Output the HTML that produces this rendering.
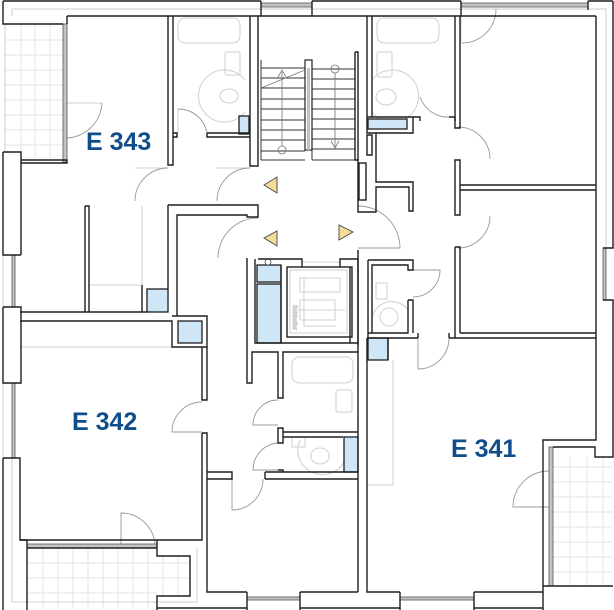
<!DOCTYPE html>
<html><head><meta charset="utf-8"><style>html,body{margin:0;padding:0;background:#fff}svg{display:block}</style></head>
<body>
<svg xmlns="http://www.w3.org/2000/svg" width="614" height="610" viewBox="0 0 614 610">
<rect width="614" height="610" fill="#fff"/>

<!-- balcony tile grids -->
<g stroke="#e3e3e3" stroke-width="1" fill="none">
  <path d="M21 24V158M35 24V158M50 24V158M5 40H63M5 55H63M5 70H63M5 85H63M5 100H63M5 115H63M5 130H63M5 145H63"/>
  <path d="M43 548V608M58 548V608M73 548V608M88 548V608M103 548V608M118 548V608M133 548V608M148 548V608M163 556V596M178 556V596M27 563H190M27 578H190M27 593H157"/>
  <path d="M570 457V586M587 457V586M603 457V586M553 467H612M553 482H612M553 497H612M553 512H612M553 527H612M553 542H612M553 557H612M553 572H612"/>
</g>

<!-- light grey outlines / furniture -->
<g stroke="#cfcfcf" stroke-width="1" fill="none">
  <path d="M12 9H606V248M12 9V16"/>
  <path d="M5 24V152"/>
  <path d="M12 458V602H197V548"/>
  <path d="M3 255V307M3 383V458"/>
  <!-- E343 kitchen -->
  <path d="M142 206V285H89"/>
  <path d="M20 347H172"/>
  <!-- E341 kitchen -->
  <path d="M393 360V485H367"/>
  <!-- bathroom TL -->
  <rect x="178" y="18" width="62" height="25" rx="7"/>
  <rect x="225" y="52" width="15" height="23" rx="2"/>
  <ellipse cx="229" cy="96" rx="9" ry="7"/>
  <path d="M245 80A26 26 0 1 0 245 112"/>
  <!-- bathroom TR -->
  <rect x="377" y="18" width="62" height="25" rx="7"/>
  <rect x="377" y="52" width="15" height="25" rx="2"/>
  <ellipse cx="386" cy="97" rx="10" ry="8"/>
  <path d="M372 80A26 26 0 1 1 372 112"/>
  <!-- bathroom 2 -->
  <rect x="292" y="357" width="61" height="26" rx="7"/>
  <rect x="336" y="390" width="16" height="22" rx="2"/>
  <!-- WC2 -->
  <rect x="292" y="437" width="13" height="10"/>
  <ellipse cx="320" cy="456" rx="9" ry="8"/>
  <path d="M300 440A22 22 0 1 0 345 460"/>
  <!-- WC right -->
  <rect x="376" y="283" width="11" height="16"/>
  <ellipse cx="389" cy="317" rx="9" ry="9"/>
  <path d="M372 318A20 20 0 0 1 408 310"/>
  <!-- lift interior -->
  <rect x="290" y="270" width="57" height="63"/>
  <rect x="302" y="262" width="38" height="5"/>
  <path d="M300 278H340V292H300ZM300 300H335V320H300ZM298 310H345M304 278V326H336"/>
  <text x="293" y="305" font-family="Liberation Sans, sans-serif" font-size="6" fill="#cfcfcf" transform="rotate(90 293 305)">Schindler</text>
  <!-- door leaves -->
  <path d="M65 103H102M217 168H250M135 168H168M178 109V133M461 9V43"/>
</g>

<!-- door swing arcs -->
<g stroke="#9a9a9a" stroke-width="0.9" fill="none">
  <path d="M102 103A37 37 0 0 1 65 138"/>
  <path d="M168 168A33 33 0 0 0 135 201"/>
  <path d="M250 168A33 33 0 0 0 217 201"/>
  <path d="M178 109A29 29 0 0 1 207 133"/>
  <path d="M258 218A40 40 0 0 0 218 258"/>
  <path d="M420 97A30 30 0 0 0 451 117"/>
  <path d="M462 43A34 34 0 0 0 496 9"/>
  <path d="M490 159A32 32 0 0 0 458 127"/>
  <path d="M490 216A32 32 0 0 1 458 248"/>
  <path d="M358 248H400A42 42 0 0 0 358 206"/>
  <path d="M413 270H440A27 27 0 0 1 413 297"/>
  <path d="M202 432H172A30 30 0 0 1 202 402"/>
  <path d="M278 425H253A25 25 0 0 1 278 400"/>
  <path d="M278 470H253A27 27 0 0 1 278 443"/>
  <path d="M232 479V510A31 31 0 0 0 263 479"/>
  <path d="M418 338V369A31 31 0 0 0 449 338"/>
  <path d="M549 507H513A36 36 0 0 1 549 471"/>
  <path d="M121 548V513A34 34 0 0 1 155 548"/>
</g>

<!-- window glass strips -->
<g fill="#c4c4c4" stroke="#555" stroke-width="0.8">
  <rect x="63" y="24" width="4" height="138"/>
  <rect x="12" y="255" width="3" height="52"/>
  <rect x="12" y="383" width="3" height="75"/>
  <rect x="603" y="248" width="3" height="52"/>
  <rect x="549" y="447" width="4" height="139"/>
  <rect x="27" y="544" width="130" height="4"/>
  <rect x="261" y="3" width="51" height="4"/>
  <rect x="461" y="3" width="127" height="4"/>
  <rect x="247" y="597" width="53" height="3"/>
  <rect x="400" y="597" width="74" height="3"/>
</g>

<!-- stairs -->
<g stroke="#333" stroke-width="1" fill="none">
  <path d="M261 68H305M261 78H305M261 88H305M261 99H305M261 109H305M261 120H305M261 130H305M261 140H305M261 151H305M261 160H305"/>
  <path d="M312 69H355M312 79H355M312 89H355M312 99H355M312 109H355M312 119H355M312 129H355M312 139H355M312 149H355M312 160H355"/>
  <path d="M261 60V160M312 69V160"/>
</g>
<rect x="305" y="60" width="7" height="90" fill="#fff" stroke="#222" stroke-width="1.2"/>
<rect x="307" y="68" width="3" height="82" fill="#b7c3cf"/>
<g stroke="#777" stroke-width="0.8" fill="none">
  <path d="M282 72V146M278 77L282 70L286 77M261 88L305 70"/>
  <circle cx="282" cy="150" r="4"/>
  <circle cx="335" cy="69" r="4"/>
  <path d="M335 73V148M331 141L335 148L339 141"/>
</g>

<!-- blue boxes -->
<g fill="#cfe6f6" stroke="#1e1e1e" stroke-width="1.3">
  <rect x="239" y="116" width="10" height="18"/>
  <rect x="368" y="119" width="39" height="10"/>
  <rect x="147" y="289" width="21" height="23"/>
  <rect x="178" y="321" width="24" height="22"/>
  <rect x="257" y="265" width="24" height="17"/>
  <rect x="257" y="284" width="24" height="59"/>
  <rect x="368" y="338" width="20" height="22"/>
  <rect x="344" y="437" width="14" height="35"/>
</g>
<circle cx="268" cy="262" r="3" fill="#fff" stroke="#444" stroke-width="0.8"/>

<!-- walls -->
<g stroke="#1e1e1e" stroke-width="1.4" fill="none" stroke-linejoin="miter">
  <!-- top outer -->
  <path d="M3 1H261M312 1H461M588 1H613"/>
  <path d="M261 1V16M312 1V16M461 1V16M588 1V10"/>
  <!-- top inner -->
  <path d="M67 16H596"/>
  <!-- top-left balcony frame -->
  <path d="M3 1V24H63M67 16V24"/>
  <path d="M21 160H67V163H21"/>
  <!-- left wall -->
  <path d="M3 152H21V255M3 152V255H21M3 307H21V383H3V307M3 458H20V540H27V548M3 458V610"/>
  <!-- right outer -->
  <path d="M613 1V248H603M603 300H613V457H595V447H553"/>
  <path d="M596 16V440H543V592H474M474 592V610M400 592V610M400 592H367V338"/>
  <path d="M543 586H613M543 592V610"/>
  <!-- bottom outer -->
  <path d="M157 608H247M300 608H400M474 608H543"/>
  <path d="M247 592V610M300 592V610"/>
  <!-- E343 right / bathroom TL -->
  <path d="M168 16V165H173V16"/>
  <path d="M173 133H177V137H173M207 133V137H250M207 133H250"/>
  <path d="M250 16V166H258V16"/>
  <path d="M168 205V289M168 205H258V217H247V215H177V316"/>
  <!-- partition in E343 -->
  <path d="M85 206H89V312M85 206V312"/>
  <!-- E343 / E342 wall -->
  <path d="M20 312H147M20 321H172V347H207V316H172"/>
  <path d="M142 285V312"/>
  <!-- corridor walls -->
  <path d="M202 347V400H207V347M202 433H207V479M202 433V540H20M27 548H157V540M157 540V556H190V596H157V610M27 548V610"/>
  <path d="M207 479V592H247M300 592H358"/>
  <path d="M207 472H232V479H207M265 472H358M265 479H358M265 472V479"/>
  <path d="M247 258V383H252V352H278V398H283V352H358M278 428H283V443H278ZM278 470H283V472"/>
  <path d="M283 432H358M283 437H343"/>
  <!-- lift block -->
  <path d="M258 259H302V267M340 267V259H358V345M255 259V343H358"/>
  <rect x="287" y="267" width="65" height="70"/>
  <path d="M281 265V343"/>
  <!-- E341 left / bottom room right -->
  <path d="M358 345V592M367 338H418M449 338H596M460 333H596"/>
  <path d="M418 333V338M449 333V338"/>
  <!-- stair hall right -->
  <path d="M355 52V160H358V212H376V187H409V211H413V182H376V133"/>
  <path d="M355 52H358V160"/>
  <path d="M367 135V155H372V135Z"/>
  <rect x="359" y="163" width="7" height="37"/>
  <path d="M358 250V345M350 343V267"/>
  <!-- bathroom TR -->
  <path d="M367 16V117H420V121M372 16V117M449 117H455V121M367 117V133H413V117"/>
  <!-- right rooms wall -->
  <path d="M455 16V128H460V16M455 160H460V215H455ZM455 247H460V333M455 247V338"/>
  <path d="M460 185H596M460 190H596"/>
  <!-- WC right -->
  <path d="M368 260H413V270H408V265H372V333M368 260V338M408 300H413V333M408 300V333H368"/>
  <!-- bathroom 2 right box -->
  <path d="M388 338V360"/>
</g>

<!-- triangles -->
<g fill="#f6dc9a" stroke="#444" stroke-width="0.9">
  <polygon points="264,185 277,177 277,193"/>
  <polygon points="264,238 277,231 277,246"/>
  <polygon points="353,232 339,225 339,240"/>
</g>

<!-- labels -->
<g font-family="Liberation Sans, Arial, sans-serif" font-weight="bold" font-size="25" fill="#104d8b">
  <text x="86" y="150">E 343</text>
  <text x="72" y="430">E 342</text>
  <text x="451" y="457">E 341</text>
</g>
</svg>
</body></html>
